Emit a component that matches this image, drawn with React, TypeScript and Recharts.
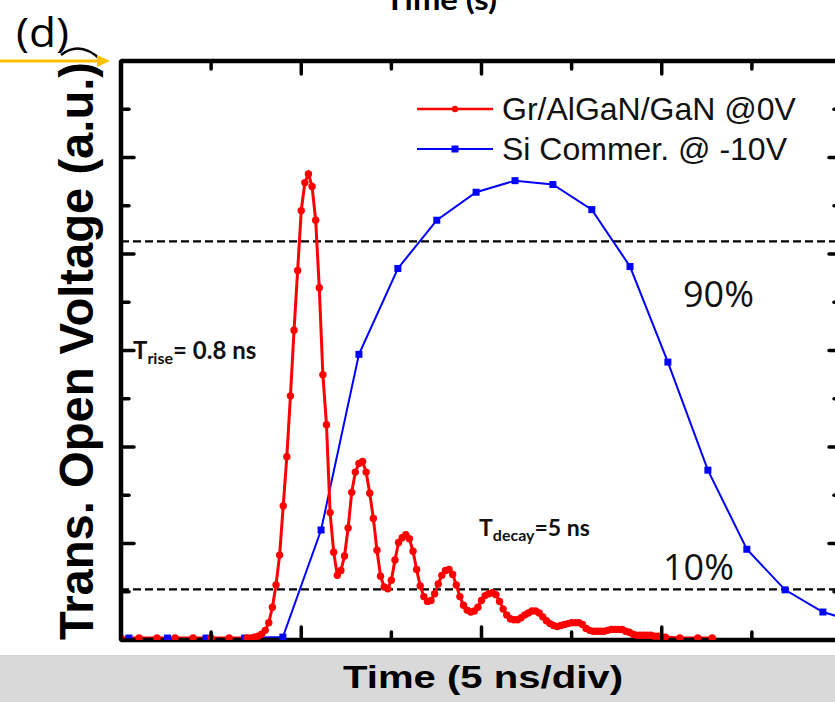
import React from 'react';
import { LineChart, Line, XAxis, YAxis, ReferenceLine } from 'recharts';

// time in ns (5 ns per major division), voltage in a.u.
const redTime = [
  0, 0.5, 1, 1.5, 2, 2.5, 3, 3.5,
  3.6, 3.7, 3.8, 3.9, 4.0, 4.1, 4.2, 4.3, 4.4, 4.5, 4.6, 4.7, 4.8, 4.9,
  5.0, 5.1, 5.2, 5.3, 5.4, 5.5, 5.6, 5.7, 5.8, 5.9,
  6.0, 6.1, 6.2, 6.3, 6.4, 6.5, 6.6, 6.7, 6.8, 6.9,
  7.0, 7.1, 7.2, 7.3, 7.4, 7.5, 7.6, 7.7, 7.8, 7.9,
  8.0, 8.1, 8.2, 8.3, 8.4, 8.5, 8.6, 8.7, 8.8, 8.9,
  9.0, 9.1, 9.2, 9.3, 9.4, 9.5, 9.6, 9.7, 9.8, 9.9,
  10.0, 10.1, 10.2, 10.3, 10.4, 10.5, 10.6, 10.7, 10.8, 10.9,
  11.0, 11.1, 11.2, 11.3, 11.4, 11.5, 11.6, 11.7, 11.8, 11.9,
  12.0, 12.1, 12.2, 12.3, 12.4, 12.5, 12.6, 12.7, 12.8, 12.9,
  13.0, 13.1, 13.2, 13.3, 13.4, 13.5, 13.6, 13.7, 13.8, 13.9,
  14.0, 14.1, 14.2, 14.3, 14.4, 14.5, 14.6, 14.7, 14.8, 14.9,
  15.0, 15.1, 15.5, 16.0, 16.4,
];
const redVolt = [
  0.02, 0.02, 0.02, 0.02, 0.02, 0.02, 0.02, 0.02,
  0.02, 0.03, 0.04, 0.06, 0.10, 0.18, 0.34, 0.57, 0.88, 1.39, 1.90, 2.53, 3.21, 3.83,
  4.45, 4.74, 4.83, 4.70, 4.35, 3.65, 2.75, 2.23, 1.32, 0.91,
  0.67, 0.72, 0.87, 1.16, 1.53, 1.74, 1.83, 1.85, 1.74, 1.52,
  1.26, 0.93, 0.66, 0.55, 0.53, 0.62, 0.83, 1.01, 1.06, 1.09,
  1.05, 0.92, 0.73, 0.56, 0.45, 0.40, 0.41, 0.48, 0.58, 0.67,
  0.72, 0.73, 0.68, 0.57, 0.45, 0.36, 0.31, 0.29, 0.30, 0.34,
  0.41, 0.46, 0.48, 0.49, 0.47, 0.40, 0.32, 0.26, 0.22, 0.21,
  0.21, 0.23, 0.26, 0.28, 0.30, 0.30, 0.28, 0.24, 0.20, 0.17,
  0.15, 0.14, 0.15, 0.16, 0.17, 0.18, 0.18, 0.18, 0.16, 0.12,
  0.10, 0.09, 0.09, 0.09, 0.09, 0.10, 0.11, 0.11, 0.11, 0.11,
  0.09, 0.08, 0.06, 0.05, 0.05, 0.05, 0.05, 0.05, 0.04, 0.04,
  0.03, 0.03, 0.02, 0.02, 0.02,
];

const blueTime = [0.22, 1.29, 2.36, 3.43, 4.49, 5.55, 6.6, 7.68, 8.76, 9.85, 10.93, 11.98, 13.06, 14.12, 15.17, 16.28, 17.36, 18.42, 19.47, 20.55];
const blueVolt = [0.02, 0.02, 0.02, 0.02, 0.03, 1.14, 2.96, 3.85, 4.35, 4.64, 4.76, 4.72, 4.46, 3.87, 2.88, 1.76, 0.94, 0.52, 0.29, 0.17];

const xTicks = [0, 2.5, 5, 7.5, 10, 12.5, 15, 17.5, 20];
const yTicks = [0, 0.5, 1, 1.5, 2, 2.5, 3, 3.5, 4, 4.5, 5, 5.5, 6];
const level90 = 4.13;
const level10 = 0.525;

const redName = 'Gr/AlGaN/GaN @0V';
const blueName = 'Si Commer. @ -10V';

const RED = '#ff0000';
const BLUE = '#0000ff';

const redData = redTime.map((t, i) => ({ t, v: redVolt[i] }));
const blueData = blueTime.map((t, i) => ({ t, v: blueVolt[i] }));

const TICK_W = 3.5;
const isMajorX = (v: number) => v % 5 === 0;
const isMajorY = (v: number) => Number.isInteger(v);

// ticks point into the plot; majors longer than minors
const tickBottom = ({ x, y, payload }: any) => (
  <line x1={x} x2={x} y1={y} y2={y - (isMajorX(payload.value) ? 13 : 8)} stroke="#000" strokeWidth={TICK_W} strokeLinecap="round" />
);
const tickTop = ({ x, y, payload }: any) => (
  <line x1={x} x2={x} y1={y} y2={y + (isMajorX(payload.value) ? 13 : 8)} stroke="#000" strokeWidth={TICK_W} strokeLinecap="round" />
);
const tickLeft = ({ x, y, payload }: any) => (
  <line x1={x} x2={x + (isMajorY(payload.value) ? 13 : 8)} y1={y} y2={y} stroke="#000" strokeWidth={TICK_W} strokeLinecap="round" />
);
const tickRight = ({ x, y, payload }: any) => (
  <line x1={x} x2={x - (isMajorY(payload.value) ? 13 : 8)} y1={y} y2={y} stroke="#000" strokeWidth={TICK_W} strokeLinecap="round" />
);

const squareDot = (props: any) => {
  const { cx, cy, index } = props;
  if (cx == null || cy == null) return <g key={index} />;
  return <rect key={index} x={cx - 3.5} y={cy - 3.5} width={7} height={7} fill={BLUE} />;
};

const axisLine = { stroke: '#000', strokeWidth: 4.5 };

export default function App() {
  return (
    <div style={{ position: 'fixed', left: 0, top: 0, width: 835, height: 702, overflow: 'hidden', background: '#fff' }}>
      <div style={{ position: 'absolute', left: 0, top: 655, width: 835, height: 47, background: '#d9d9d9' }} />
      <div style={{ position: 'absolute', left: 0, top: 0 }}>
        <LineChart width={860} height={702} margin={{ top: 61, right: 18, bottom: 62, left: 121 }}>
          <XAxis xAxisId="b" orientation="bottom" mirror type="number" dataKey="t" domain={[0, 20]} ticks={xTicks}
            allowDataOverflow interval={0} tickSize={0} tickMargin={0} tickLine={false}
            tick={tickBottom} axisLine={axisLine} />
          <XAxis xAxisId="t" orientation="top" mirror type="number" dataKey="t" domain={[0, 20]} ticks={xTicks}
            allowDataOverflow interval={0} tickSize={0} tickMargin={0} tickLine={false}
            tick={tickTop} axisLine={axisLine} />
          <YAxis yAxisId="l" orientation="left" mirror type="number" domain={[0, 6]} ticks={yTicks}
            allowDataOverflow interval={0} tickSize={0} tickMargin={0} tickLine={false}
            tick={tickLeft} axisLine={axisLine} />
          <YAxis yAxisId="r" orientation="right" mirror type="number" domain={[0, 6]} ticks={yTicks}
            allowDataOverflow interval={0} tickSize={0} tickMargin={0} tickLine={false}
            tick={tickRight} axisLine={axisLine} />
          <ReferenceLine xAxisId="b" yAxisId="l" y={level90} stroke="#000" strokeWidth={2.2} strokeDasharray="8 4" />
          <ReferenceLine xAxisId="b" yAxisId="l" y={level10} stroke="#000" strokeWidth={2.2} strokeDasharray="8 4" />
          <Line xAxisId="b" yAxisId="l" data={blueData} dataKey="v" name={blueName} type="linear"
            stroke={BLUE} strokeWidth={2} dot={squareDot} isAnimationActive={false} />
          <Line xAxisId="b" yAxisId="l" data={redData} dataKey="v" name={redName} type="linear"
            stroke={RED} strokeWidth={3} dot={{ r: 3.7, fill: RED, stroke: 'none' }} isAnimationActive={false} />
        </LineChart>
      </div>
      <svg width={835} height={702} style={{ position: 'absolute', left: 0, top: 0, pointerEvents: 'none' }}>
        {/* header remnants, cut at the top edge as in the source figure */}
        <text x={441} y={10} textAnchor="middle" fontFamily="Lato" fontWeight="bold" fontSize={28} textLength={112} lengthAdjust="spacingAndGlyphs">Time (s)</text>
        <text x={16} y={47} fontFamily="Open Sans" fontSize={40} textLength={53} lengthAdjust="spacingAndGlyphs">(d)</text>
        <path d="M61 55 Q 80 40 101 60" fill="none" stroke="#000" strokeWidth={2.5} />
        <line x1={0} y1={61} x2={100} y2={61} stroke="#ffc000" strokeWidth={3} />
        <polygon points="97,55 110,61 97,67" fill="#ffc000" />

        {/* axis titles */}
        <text transform="translate(93,351) rotate(-90)" textAnchor="middle" fontFamily="Liberation Sans, Arial" fontWeight="bold" fontSize={48} textLength={578} lengthAdjust="spacingAndGlyphs">Trans. Open Voltage (a.u.)</text>
        <text x={483} y={688} textAnchor="middle" fontFamily="Liberation Sans, Arial" fontWeight="bold" fontSize={31} textLength={280} lengthAdjust="spacingAndGlyphs">Time (5 ns/div)</text>

        {/* legend */}
        <line x1={417} x2={493} y1={109} y2={109} stroke={RED} strokeWidth={2.5} />
        <circle cx={455} cy={109} r={3.2} fill={RED} />
        <text x={502} y={120} fontFamily="Liberation Sans, Arial" fontSize={32} fill="#111">{redName}</text>
        <line x1={417} x2={493} y1={149} y2={149} stroke={BLUE} strokeWidth={2} />
        <rect x={451.5} y={145.5} width={7} height={7} fill={BLUE} />
        <text x={502} y={160} fontFamily="Liberation Sans, Arial" fontSize={32} fill="#111">{blueName}</text>

        {/* annotations */}
        <text x={683} y={307} fontFamily="Open Sans" fontSize={36} fill="#111">90%</text>
        <text x={663} y={580} fontFamily="Open Sans" fontSize={36} fill="#111">10%</text>
        <text x={133} y={359} fontFamily="Lato" fontWeight="bold" fontSize={24} fill="#111">
          T<tspan fontSize={16} dy={5}>rise</tspan><tspan dy={-5}>= 0.8 ns</tspan>
        </text>
        <text x={479} y={536} fontFamily="Lato" fontWeight="bold" fontSize={23} fill="#111">
          T<tspan fontSize={16} dy={5}>decay</tspan><tspan dy={-5}>=5 ns</tspan>
        </text>
      </svg>
    </div>
  );
}
